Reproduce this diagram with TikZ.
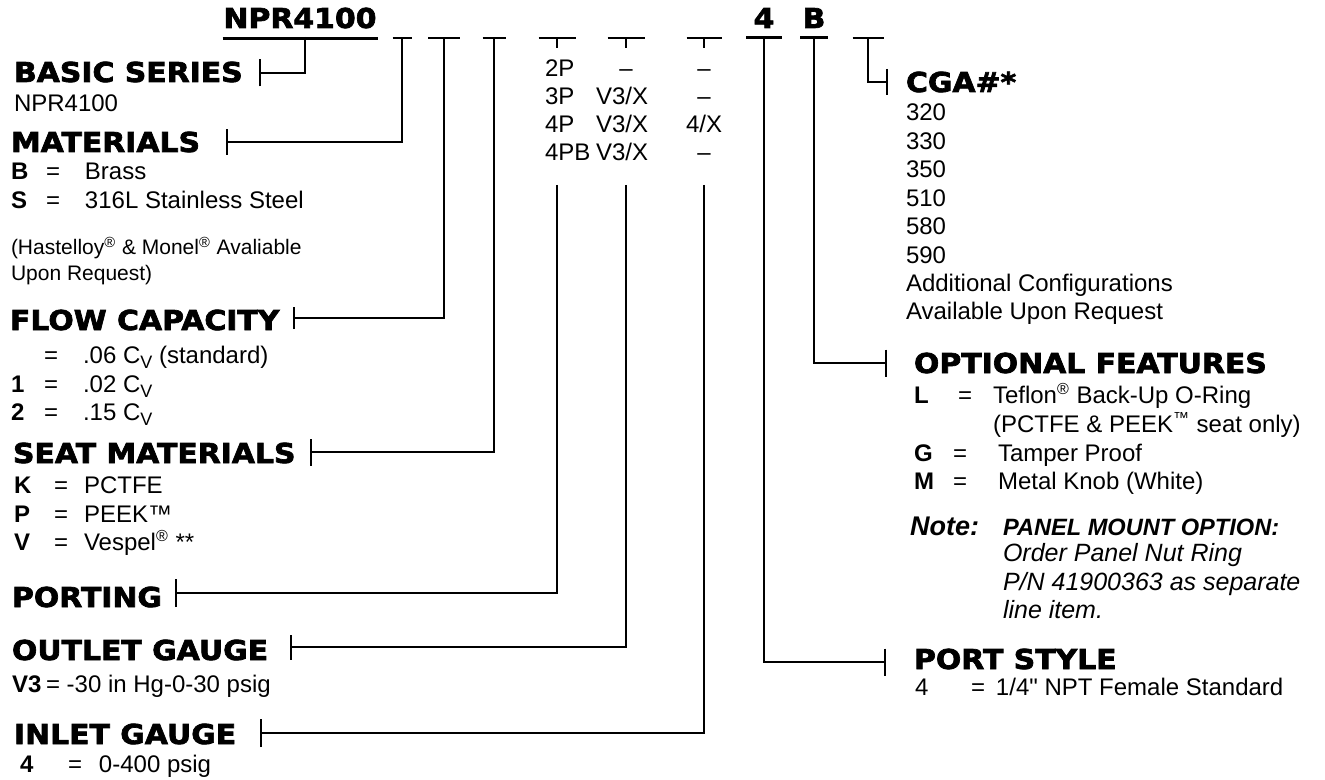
\documentclass[tikz,border=0pt]{standalone}
\usepackage{fontspec}
\setmainfont{Liberation Sans}
\newfontfamily\hdfont[FakeStretch=1.09,FakeBold=2.5]{DejaVu Sans Bold}
\usetikzlibrary{arrows.meta}
\def\cv{C\raisebox{-0.4ex}{\fontsize{9}{9}\selectfont V}}
\newcommand\keyrow[4]{\makebox[#1][l]{\textbf{#3}}\makebox[#2][l]{=}#4}

\begin{document}
\begin{tikzpicture}[x=0.5pt,y=-0.5pt,line width=1pt,
  head/.style={anchor=base west,inner sep=0,font=\hdfont\fontsize{13.7}{16}\selectfont},
  body/.style={anchor=base west,inner sep=0,font=\fontsize{12}{14}\selectfont},
  small/.style={anchor=base west,inner sep=0,font=\fontsize{10.5}{12}\selectfont},
  note/.style={anchor=base west,inner sep=0,font=\itshape\fontsize{12.5}{14}\selectfont}]
\useasboundingbox (0,0) rectangle (1325,780);

% model code
\node[head,anchor=base,inner ysep=4.5pt] (npr) at (300,28) {NPR4100};
\node[head,anchor=base,minimum width=17pt,inner ysep=4.5pt] (code4) at (764,28) {4};
\node[head,anchor=base,minimum width=13pt,inner ysep=4.5pt] (codeB) at (814,28) {B};
\draw[line width=1.5pt] (npr.south west) -- (npr.south east);
\draw[line width=1.5pt] (code4.south west) -- (code4.south east);
\draw[line width=1.5pt] (codeB.south west) -- (codeB.south east);

\coordinate (basicT) at (305,37);
\coordinate (matT) at (402,37);
\coordinate (flowT) at (444,37);
\coordinate (seatT) at (494,37);
\coordinate (portT) at (557,37);
\coordinate (portS) at (557,48);
\coordinate (portL) at (557,185);
\coordinate (outT) at (626,37);
\coordinate (outS) at (626,48);
\coordinate (outL) at (626,185);
\coordinate (inT) at (704,37);
\coordinate (inS) at (704,48);
\coordinate (inL) at (704,185);
\coordinate (cgaT) at (868,37);

% porting / gauge table
\node[body] (p2) at (544,77) {2P};
\node[body] (p3) at (544,105) {3P};
\node[body] (p4) at (544,133) {4P};
\node[body] (p4b) at (544,161) {4PB};
\node[body,anchor=base] (o2) at (626,77) {--};
\node[body] (o3) at (595,105) {V3/X};
\node[body] (o4) at (595,133) {V3/X};
\node[body] (o4b) at (595,161) {V3/X};
\node[body,anchor=base] (i2) at (704,77) {--};
\node[body,anchor=base] (i3) at (704,105) {--};
\node[body,anchor=base] (i4) at (704,133) {4/X};
\node[body,anchor=base] (i4b) at (704,161) {--};

% left column
\node[head] (basic) at (13,82) {BASIC SERIES};
\coordinate (basicK) at (259,73);
\node[body] (basicv) at (13,112) {NPR4100};

\node[head] (materials) at (10,152) {MATERIALS};
\coordinate (matK) at (226,142);
\node[body] (matb) at (10,180) {\keyrow{17.5pt}{19.5pt}{B}{Brass}};
\node[body] (mats) at (10,209) {\keyrow{17.5pt}{19.5pt}{S}{316L Stainless Steel}};
\node[small] (matn1) at (10,255) {(Hastelloy\textsuperscript{®} \& Monel\textsuperscript{®} Avaliable};
\node[small] (matn2) at (10,280) {Upon Request)};

\node[head] (flow) at (9,330) {FLOW CAPACITY};
\coordinate (flowK) at (293,318);
\node[body] (flow0) at (10,363) {\keyrow{16.5pt}{19.5pt}{}{.06 \cv{} (standard)}};
\node[body] (flow1) at (10,392) {\keyrow{16.5pt}{19.5pt}{1}{.02 \cv}};
\node[body] (flow2) at (10,420) {\keyrow{16.5pt}{19.5pt}{2}{.15 \cv}};

\node[head] (seat) at (12,463) {SEAT MATERIALS};
\coordinate (seatK) at (310,452);
\node[body] (seatk) at (13,493) {\keyrow{20pt}{15pt}{K}{PCTFE}};
\node[body] (seatp) at (13,522) {\keyrow{20pt}{15pt}{P}{PEEK™}};
\node[body] (seatv) at (13,550) {\keyrow{20pt}{15pt}{V}{Vespel\textsuperscript{®} **}};

\node[head] (porting) at (11,607) {PORTING};
\coordinate (portK) at (175,593);

\node[head] (outlet) at (11,660) {OUTLET GAUGE};
\coordinate (outK) at (290,647);
\node[body] (outv) at (11,692) {\makebox[17pt][l]{\textbf{V3}}= -30 in Hg-0-30 psig};

\node[head] (inlet) at (13,744) {INLET GAUGE};
\coordinate (inK) at (260,733);
\node[body] (inv) at (19,772) {\keyrow{24pt}{15.5pt}{4}{0-400 psig}};

% right column
\node[head] (cga) at (905,92) {CGA\#*};
\coordinate (cgaK) at (888,82);
\node[body] (cga1) at (905,121) {320};
\node[body] (cga2) at (905,149.5) {330};
\node[body] (cga3) at (905,178) {350};
\node[body] (cga4) at (905,206.5) {510};
\node[body] (cga5) at (905,235) {580};
\node[body] (cga6) at (905,263.5) {590};
\node[body] (cga7) at (905,292) {Additional Configurations};
\node[body] (cga8) at (905,320) {Available Upon Request};

\node[head] (optional) at (913,373) {OPTIONAL FEATURES};
\coordinate (optK) at (887,363);
\node[body] (optl) at (913,403) {\keyrow{22pt}{17.5pt}{L}{Teflon\textsuperscript{®} Back-Up O-Ring}};
\node[body] (optl2) at (992,432) {(PCTFE \& PEEK\textsuperscript{™} seat only)};
\node[body] (optg) at (913,461) {\keyrow{19.5pt}{22.5pt}{G}{Tamper Proof}};
\node[body] (optm) at (913,489) {\keyrow{19.5pt}{22.5pt}{M}{Metal Knob (White)}};

\node[note,font=\bfseries\itshape\fontsize{13.5}{16}\selectfont] (note) at (909,535) {Note:};
\node[note,font=\bfseries\itshape\fontsize{11.8}{14}\selectfont] (notehd) at (1002,535) {PANEL MOUNT OPTION:};
\node[note] (note1) at (1002,561) {Order Panel Nut Ring};
\node[note] (note2) at (1002,590) {P/N 41900363 as separate};
\node[note] (note3) at (1002,618) {line item.};

\node[head] (portstyle) at (913,669) {PORT STYLE};
\coordinate (styleK) at (886,662);
\node[body] (stylev) at (914,695) {\makebox[28pt][l]{4}\makebox[12.5pt][l]{=}1/4\textquotedbl{} NPT Female Standard};

% connectors
\draw[-{Bar[width=13.5pt]}] (basicT) |- (basicK);
\draw[{Bar[width=9.5pt]}-{Bar[width=13pt]}] (matT) |- (matK);
\draw[{Bar[width=16pt]}-{Bar[width=11pt]}] (flowT) |- (flowK);
\draw[{Bar[width=11.5pt]}-{Bar[width=13.5pt]}] (seatT) |- (seatK);
\draw[{Bar[width=18.5pt]}-] (portT) -- (portS);
\draw[-{Bar[width=14pt]}] (portL) |- (portK);
\draw[{Bar[width=18.5pt]}-] (outT) -- (outS);
\draw[-{Bar[width=12.5pt]}] (outL) |- (outK);
\draw[{Bar[width=17.5pt]}-] (inT) -- (inS);
\draw[-{Bar[width=14pt]}] (inL) |- (inK);
\draw[{Bar[width=15.5pt]}-{Bar[width=13pt]}] (cgaT) |- (cgaK);
\draw[-{Bar[width=13.5pt]}] (codeB.south) |- (optK);
\draw[-{Bar[width=13.5pt]}] (code4.south) |- (styleK);
\end{tikzpicture}
\end{document}
